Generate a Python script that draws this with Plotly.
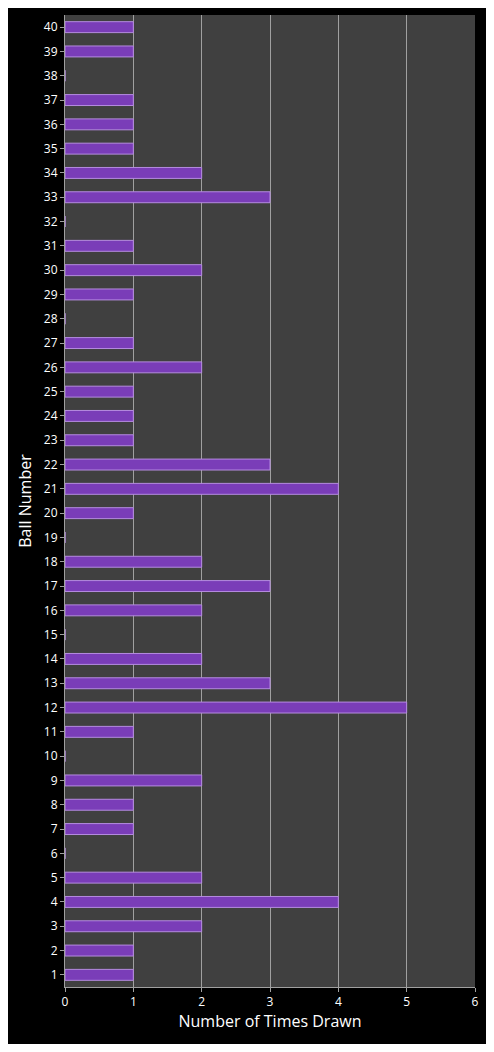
import plotly.graph_objects as go

balls = [str(i) for i in range(1, 41)]
counts = [1,1,2,4,2,0,1,1,2,0,1,5,3,2,0,2,3,2,0,1,4,3,1,1,1,2,1,0,1,2,1,0,3,2,1,1,1,0,1,1]
x_ticks = [0,1,2,3,4,5,6]

fig = go.Figure(go.Bar(
    y=balls, x=counts, orientation='h', width=0.45,
    marker=dict(color='#7a3db8', line=dict(color='#b58be0', width=1)),
))
fig.update_layout(
    width=478, height=1036,
    paper_bgcolor='black', plot_bgcolor='#404040',
    margin=dict(l=57, r=9, t=7, b=57),
    font=dict(family='Open Sans, sans-serif', color='white', size=12),
    showlegend=False, bargap=0.55,
)
fig.update_xaxes(range=[0, 6], tickvals=x_ticks, showgrid=True, gridcolor='#a0a0a0',
                 gridwidth=1, zeroline=False,
                 title=dict(text='Number of Times Drawn', font=dict(size=16), standoff=6),
                 ticks='outside', ticklen=4, tickcolor='#a0a0a0',
                 showline=True, linecolor='#a0a0a0')
fig.update_yaxes(type='category', categoryorder='array', categoryarray=balls,
                 showgrid=False, title=dict(text='Ball Number', font=dict(size=16), standoff=8),
                 ticks='outside', ticklen=4, tickcolor='#a0a0a0',
                 showline=True, linecolor='#a0a0a0')
fig.write_html('out.html')
